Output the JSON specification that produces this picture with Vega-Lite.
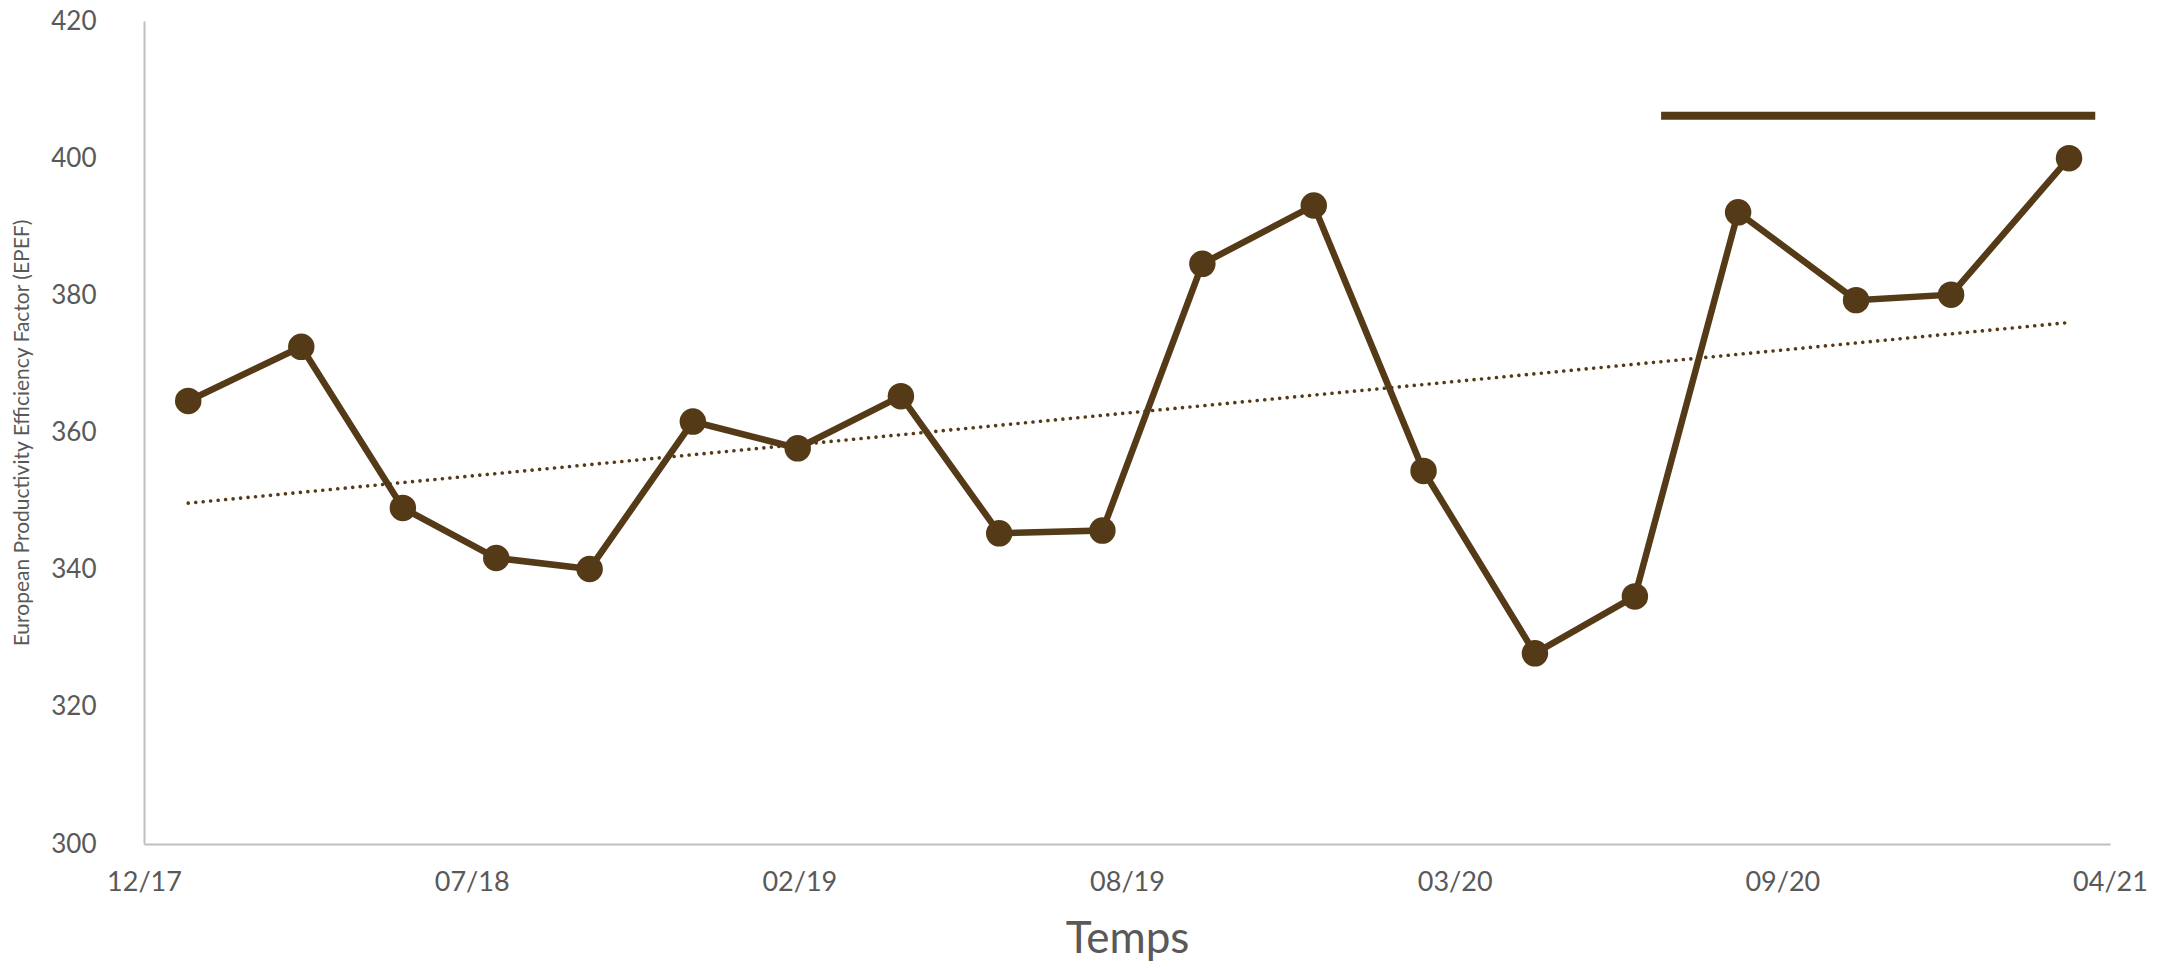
{
  "$schema": "https://vega.github.io/schema/vega-lite/v6.json",
  "width": 1966,
  "height": 823,
  "autosize": {"type": "none"},
  "padding": {"left": 144, "top": 21, "right": 70, "bottom": 126},
  "background": "white",
  "config": {"view": {"stroke": null}, "font": "Lato"},
  "data": {
    "values": [
      {"date": "2018-01-27T00:00:00", "value": 364.6},
      {"date": "2018-04-06T00:00:00", "value": 372.5},
      {"date": "2018-06-07T00:00:00", "value": 349.0},
      {"date": "2018-08-03T00:00:00", "value": 341.7},
      {"date": "2018-09-29T00:00:00", "value": 340.1},
      {"date": "2018-12-01T00:00:00", "value": 361.6},
      {"date": "2019-02-03T00:00:00", "value": 357.7},
      {"date": "2019-04-07T00:00:00", "value": 365.3},
      {"date": "2019-06-06T00:00:00", "value": 345.3},
      {"date": "2019-08-08T00:00:00", "value": 345.7},
      {"date": "2019-10-08T00:00:00", "value": 384.6},
      {"date": "2019-12-15T00:00:00", "value": 393.1},
      {"date": "2020-02-20T00:00:00", "value": 354.4},
      {"date": "2020-04-28T00:00:00", "value": 327.8},
      {"date": "2020-06-28T00:00:00", "value": 336.1},
      {"date": "2020-08-30T00:00:00", "value": 392.1},
      {"date": "2020-11-10T00:00:00", "value": 379.3},
      {"date": "2021-01-07T00:00:00", "value": 380.1},
      {"date": "2021-03-20T00:00:00", "value": 400.0}
    ],
    "format": {"parse": {"date": "date"}}
  },
  "encoding": {
    "x": {
      "field": "date",
      "type": "temporal",
      "scale": {"domain": [{"year": 2017, "month": 12, "date": 31}, {"year": 2021, "month": 4, "date": 14}]},
      "axis": {
        "title": "Temps",
        "format": "%m/%y",
        "values": [
          {"year": 2017, "month": 12, "date": 31},
          {"year": 2018, "month": 7, "date": 19},
          {"year": 2019, "month": 2, "date": 4},
          {"year": 2019, "month": 8, "date": 23},
          {"year": 2020, "month": 3, "date": 10},
          {"year": 2020, "month": 9, "date": 26},
          {"year": 2021, "month": 4, "date": 14}
        ],
        "labelFontSize": 27,
        "labelColor": "#595959",
        "labelPadding": 25,
        "labelFlush": false,
        "titleFontSize": 44,
        "titleColor": "#595959",
        "titleFontWeight": "normal",
        "titlePadding": 22,
        "domainColor": "#BFBFBF",
        "domainWidth": 2,
        "ticks": false,
        "grid": false
      }
    },
    "y": {
      "field": "value",
      "type": "quantitative",
      "scale": {"domain": [300, 420], "nice": false, "zero": false},
      "axis": {
        "title": "European Productivity Efficiency Factor (EPEF)",
        "values": [300, 320, 340, 360, 380, 400, 420],
        "labelFontSize": 26,
        "labelColor": "#595959",
        "labelPadding": 48,
        "titleFontSize": 21,
        "titleColor": "#595959",
        "titleFontWeight": "normal",
        "titlePadding": 18,
        "domainColor": "#BFBFBF",
        "domainWidth": 2,
        "ticks": false,
        "grid": false
      }
    }
  },
  "layer": [
    {
      "transform": [{"regression": "value", "on": "date"}],
      "mark": {"type": "line", "color": "#553A17", "strokeWidth": 3.6, "strokeDash": [0.01, 7.5], "strokeCap": "round"}
    },
    {
      "mark": {
        "type": "line",
        "color": "#553A17",
        "strokeWidth": 6.5,
        "point": {"filled": true, "size": 700, "color": "#553A17", "opacity": 1}
      }
    },
    {
      "data": {
        "values": [{"start": "2020-07-14T00:00:00", "end": "2021-04-05T00:00:00", "value": 406.2}]
      },
      "mark": {"type": "rule", "color": "#553A17", "strokeWidth": 8},
      "encoding": {
        "x": {"field": "start", "type": "temporal"},
        "x2": {"field": "end"},
        "y": {"field": "value", "type": "quantitative"}
      }
    }
  ]
}
